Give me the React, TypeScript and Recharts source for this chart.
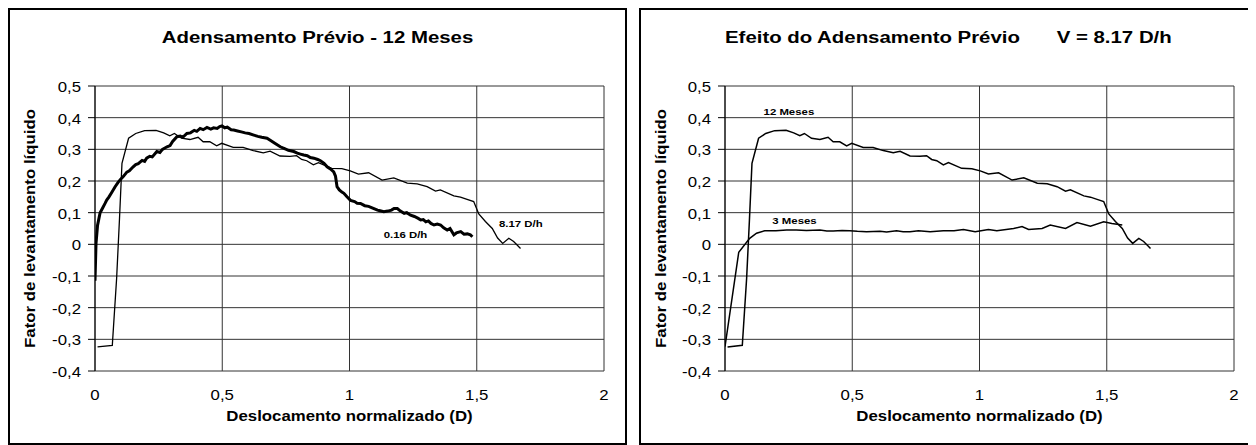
import React from 'react';
import { LineChart, Line, XAxis, YAxis, CartesianGrid, ReferenceDot } from 'recharts';

// [deslocamento normalizado, fator de levantamento]
// 8.17 D/h after 12 months (same test appears in both panels)
const rapido12: [number, number][] = [
  [0.010, -0.324], [0.068, -0.319], [0.085, -0.107], [0.096, 0.077], [0.106, 0.256],
  [0.132, 0.335], [0.160, 0.350], [0.195, 0.359], [0.240, 0.360], [0.270, 0.352],
  [0.294, 0.343], [0.312, 0.350], [0.340, 0.335], [0.373, 0.331], [0.405, 0.338],
  [0.425, 0.324], [0.451, 0.324], [0.478, 0.311], [0.498, 0.319], [0.543, 0.306],
  [0.582, 0.306], [0.622, 0.296], [0.661, 0.289], [0.688, 0.294], [0.727, 0.279],
  [0.766, 0.278], [0.792, 0.280], [0.812, 0.268], [0.832, 0.264], [0.858, 0.251],
  [0.878, 0.258], [0.930, 0.240], [0.970, 0.239], [1.003, 0.232], [1.035, 0.222],
  [1.075, 0.226], [1.128, 0.203], [1.174, 0.210], [1.227, 0.193], [1.266, 0.191],
  [1.305, 0.182], [1.338, 0.168], [1.357, 0.172], [1.410, 0.153], [1.436, 0.149],
  [1.462, 0.142], [1.488, 0.135], [1.508, 0.096], [1.534, 0.072], [1.561, 0.050],
  [1.582, 0.020], [1.602, 0.003], [1.626, 0.019], [1.645, 0.009], [1.672, -0.013],
];

// 0.16 D/h after 12 months (noisy trace)
const lento12: [number, number][] = [
  [0.000, -0.115], [0.004, 0.003], [0.010, 0.060], [0.020, 0.100], [0.030, 0.115],
  [0.040, 0.130], [0.046, 0.140], [0.055, 0.150], [0.065, 0.163], [0.079, 0.182],
  [0.090, 0.195], [0.100, 0.205], [0.111, 0.214], [0.125, 0.228], [0.135, 0.232],
  [0.150, 0.245], [0.160, 0.252], [0.170, 0.255], [0.185, 0.265], [0.195, 0.262],
  [0.203, 0.272], [0.215, 0.278], [0.225, 0.276], [0.243, 0.293], [0.255, 0.290],
  [0.265, 0.300], [0.283, 0.308], [0.295, 0.312], [0.305, 0.325], [0.322, 0.340],
  [0.335, 0.342], [0.345, 0.338], [0.361, 0.350], [0.375, 0.352], [0.390, 0.360],
  [0.400, 0.357], [0.413, 0.366], [0.425, 0.362], [0.440, 0.369], [0.455, 0.364],
  [0.466, 0.368], [0.480, 0.366], [0.490, 0.372], [0.499, 0.374], [0.510, 0.368],
  [0.520, 0.370], [0.535, 0.362], [0.545, 0.361], [0.560, 0.358], [0.575, 0.355],
  [0.590, 0.352], [0.605, 0.350], [0.624, 0.345], [0.640, 0.341], [0.655, 0.338],
  [0.676, 0.335], [0.690, 0.328], [0.705, 0.320], [0.728, 0.308], [0.745, 0.302],
  [0.760, 0.297], [0.781, 0.293], [0.795, 0.288], [0.807, 0.285], [0.820, 0.282],
  [0.834, 0.280], [0.846, 0.274], [0.860, 0.272], [0.875, 0.268], [0.886, 0.264],
  [0.900, 0.256], [0.912, 0.245], [0.925, 0.238], [0.938, 0.229], [0.945, 0.215],
  [0.951, 0.182], [0.960, 0.172], [0.970, 0.165], [0.978, 0.161], [0.990, 0.150],
  [1.004, 0.139], [1.020, 0.135], [1.030, 0.130], [1.043, 0.129], [1.060, 0.122],
  [1.075, 0.120], [1.096, 0.113], [1.110, 0.108], [1.120, 0.106], [1.135, 0.103],
  [1.150, 0.105], [1.165, 0.108], [1.175, 0.113], [1.188, 0.113], [1.200, 0.105],
  [1.215, 0.098], [1.225, 0.100], [1.240, 0.092], [1.255, 0.088], [1.270, 0.082],
  [1.280, 0.077], [1.290, 0.078], [1.300, 0.071], [1.310, 0.074], [1.320, 0.066],
  [1.332, 0.061], [1.345, 0.064], [1.358, 0.061], [1.370, 0.052], [1.384, 0.045],
  [1.395, 0.050], [1.410, 0.030], [1.420, 0.036], [1.437, 0.040], [1.450, 0.032],
  [1.463, 0.033], [1.475, 0.030], [1.483, 0.024],
];

// 8.17 D/h after 3 months
const rapido3: [number, number][] = [
  [0.000, -0.323], [0.054, -0.025], [0.097, 0.019], [0.124, 0.035], [0.156, 0.043],
  [0.200, 0.043], [0.242, 0.045], [0.280, 0.045], [0.320, 0.044], [0.373, 0.045],
  [0.400, 0.042], [0.425, 0.042], [0.460, 0.044], [0.490, 0.043], [0.520, 0.041],
  [0.556, 0.040], [0.609, 0.041], [0.635, 0.039], [0.674, 0.043], [0.700, 0.040],
  [0.727, 0.040], [0.760, 0.043], [0.806, 0.040], [0.858, 0.043], [0.900, 0.043],
  [0.937, 0.047], [0.983, 0.040], [1.035, 0.047], [1.068, 0.043], [1.134, 0.050],
  [1.167, 0.056], [1.193, 0.047], [1.246, 0.050], [1.278, 0.061], [1.338, 0.050],
  [1.383, 0.069], [1.436, 0.057], [1.488, 0.071], [1.520, 0.066], [1.561, 0.061],
];

const xTicks = [0, 0.5, 1, 1.5, 2];
const yTicks = [-0.4, -0.3, -0.2, -0.1, 0, 0.1, 0.2, 0.3, 0.4, 0.5];

const FONT = '"Liberation Sans", Arial, sans-serif';
const SX = 1.2; // excel text is drawn wide
const PANEL_H = 437;

const toPoints = (pairs: [number, number][]) => pairs.map(([x, y]) => ({ x, y }));
const fmt = (v: number) => String(v).replace('.', ',');

const Txt = ({ x, y, size, bold = false, anchor = 'start', rotate = 0, children }: any) => (
  <text
    transform={`translate(${x} ${y}) rotate(${rotate}) scale(${SX} 1)`}
    fontSize={size}
    fontWeight={bold ? 'bold' : 'normal'}
    fontFamily={FONT}
    textAnchor={anchor}
    fill="#000"
  >
    {children}
  </text>
);

const centerOf = (vb: any) => ({
  cx: (vb?.x ?? 0) + (vb?.width ?? 0) / 2,
  cy: (vb?.y ?? 0) + (vb?.height ?? 0) / 2,
});

const note = (text: string) => (props: any) => {
  const { cx, cy } = centerOf(props.viewBox);
  return <Txt x={cx} y={cy} size={9.5} bold anchor="middle">{text}</Txt>;
};

interface SeriesDef {
  pts: [number, number][];
  width: number;
}

interface NoteDef {
  x: number;
  y: number;
  text: string;
}

interface PanelProps {
  left: number;
  width: number;
  plotLeft: number;
  plotRight: number;
  series: SeriesDef[];
  notes: NoteDef[];
  title: React.ReactNode;
}

// plot area: top 78, bottom 363 inside each panel
const Panel = ({ left, width, plotLeft, plotRight, series, notes, title }: PanelProps) => {
  return (
    <div style={{ position: 'absolute', left, top: 0, width, height: PANEL_H, background: '#fff' }}>
      <LineChart width={width} height={PANEL_H} margin={{ top: 78, right: width - plotRight, left: 0, bottom: 34 }}>
        <CartesianGrid stroke="#333" strokeWidth={1} />
        <XAxis
          dataKey="x"
          type="number"
          domain={[0, 2]}
          ticks={xTicks}
          allowDataOverflow
          height={40}
          axisLine={false}
          tickLine={false}
          tickSize={0}
          tickMargin={0}
          tick={(p: any) => (
            <Txt x={p.x} y={p.y + 29} size={14} anchor="middle">{fmt(p.payload.value)}</Txt>
          )}
          label={{
            content: (p: any) => {
              const vb = p.viewBox || {};
              return (
                <Txt x={vb.x + vb.width / 2} y={vb.y + 49.5} size={14} bold anchor="middle">
                  Deslocamento normalizado (D)
                </Txt>
              );
            },
          }}
        />
        <YAxis
          type="number"
          domain={[-0.4, 0.5]}
          ticks={yTicks}
          allowDataOverflow
          width={plotLeft}
          axisLine={{ stroke: '#000', strokeWidth: 1 }}
          tickLine={{ stroke: '#000', strokeWidth: 1 }}
          tickSize={7}
          tickMargin={7}
          tick={(p: any) => (
            <Txt x={p.x} y={p.y + 6} size={14} anchor="end">{fmt(p.payload.value)}</Txt>
          )}
          label={{
            content: (p: any) => {
              const vb = p.viewBox || {};
              return (
                <Txt x={vb.x + 26.5} y={vb.y + vb.height / 2} size={14} bold anchor="middle" rotate={-90}>
                  Fator de levantamento líquido
                </Txt>
              );
            },
          }}
        />
        {series.map((s, i) => (
          <Line
            key={i}
            data={toPoints(s.pts)}
            dataKey="y"
            type="linear"
            stroke="#000"
            strokeWidth={s.width}
            dot={false}
            activeDot={false}
            isAnimationActive={false}
          />
        ))}
        {notes.map((n, i) => (
          <ReferenceDot
            key={`n${i}`}
            x={n.x}
            y={n.y}
            r={1}
            fill="none"
            stroke="none"
            label={{ content: note(n.text) }}
          />
        ))}
      </LineChart>
      <svg width={width} height={60} style={{ position: 'absolute', left: 0, top: 0, pointerEvents: 'none' }}>
        {title}
      </svg>
      <div
        style={{
          position: 'absolute',
          inset: 0,
          border: '2px solid #000',
          boxSizing: 'border-box',
          pointerEvents: 'none',
        }}
      />
    </div>
  );
};

const App = () => {
  return (
    <div style={{ position: 'relative', width: 1248, height: PANEL_H, overflow: 'hidden' }}>
      <Panel
        left={0}
        width={619}
        plotLeft={87}
        plotRight={596}
        series={[
          { pts: rapido12, width: 1.3 },
          { pts: lento12, width: 3 },
        ]}
        notes={[
          { x: 1.22, y: 0.02, text: '0.16 D/h' },
          { x: 1.673, y: 0.056, text: '8.17 D/h' },
        ]}
        title={
          <Txt x={309.5} y={35} size={17} bold anchor="middle">
            Adensamento Prévio - 12 Meses
          </Txt>
        }
      />
      <Panel
        left={631}
        width={622}
        plotLeft={86}
        plotRight={595}
        series={[
          { pts: rapido12, width: 1.5 },
          { pts: rapido3, width: 1.5 },
        ]}
        notes={[
          { x: 0.251, y: 0.407, text: '12 Meses' },
          { x: 0.273, y: 0.064, text: '3 Meses' },
        ]}
        title={
          <>
            <Txt x={86} y={35} size={17} bold>Efeito do Adensamento Prévio</Txt>
            <Txt x={417.7} y={35} size={17} bold>V = 8.17 D/h</Txt>
          </>
        }
      />
    </div>
  );
};

export default App;
